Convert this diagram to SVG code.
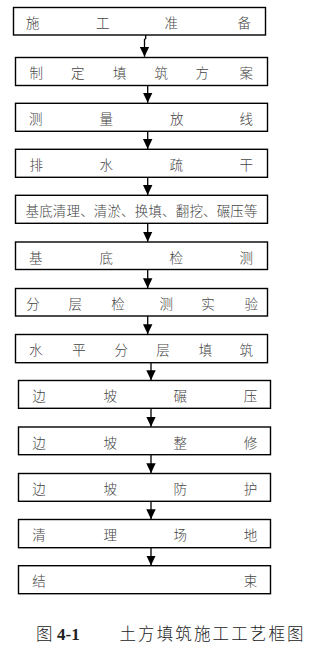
<svg xmlns="http://www.w3.org/2000/svg" width="311" height="653" viewBox="0 0 311 653">
<defs>
<marker id="ah" viewBox="0 -5 10 10" refX="10" refY="0" markerWidth="10" markerHeight="10" markerUnits="userSpaceOnUse" orient="auto">
<path d="M0,-4.7 L10,0 L0,4.7 z" fill="#000"/>
</marker>
</defs>
<style>
.box{fill:#fff;stroke:#000;stroke-width:1.4}
.t{font-family:"Noto Sans CJK SC","Noto Sans CJK JP",sans-serif;font-size:13.5px;font-weight:300;fill:#444}
.cap{font-family:"Noto Sans CJK SC","Noto Sans CJK JP",sans-serif;font-size:16.5px;font-weight:300;fill:#222}
.num{font-family:"Liberation Serif",serif;font-size:17px;font-weight:bold;fill:#222}
.c{fill:none;stroke:#000;stroke-width:1.3;marker-end:url(#ah)}
</style>
<rect width="311" height="653" fill="#fff"/>
<g id="connectors">
<polyline class="c" points="145.7,35 145.7,38.5 144.5,39.5 144.5,56.8"/>
<line class="c" x1="147.7" y1="85.3" x2="147.7" y2="102.8"/>
<line class="c" x1="147.7" y1="131.3" x2="147.7" y2="149"/>
<line class="c" x1="147.7" y1="177.3" x2="147.7" y2="195"/>
<line class="c" x1="147.7" y1="223.3" x2="147.7" y2="241.7"/>
<line class="c" x1="147.7" y1="269.5" x2="147.7" y2="288.2"/>
<line class="c" x1="147.7" y1="316" x2="147.7" y2="334.2"/>
<line class="c" x1="151" y1="362.7" x2="151" y2="380.2"/>
<line class="c" x1="151" y1="408.3" x2="151" y2="426.8"/>
<line class="c" x1="151" y1="454.7" x2="151" y2="473.2"/>
<line class="c" x1="151" y1="501.3" x2="151" y2="519.2"/>
<line class="c" x1="151" y1="547.7" x2="151" y2="565.5"/>
</g>
<g id="n1"><rect class="box" x="13.5" y="7.5" width="252" height="27.5"/><text class="t" x="26 96 164.5 237.5" y="28">施工准备</text></g>
<g id="n2"><rect class="box" x="15.5" y="57.5" width="252" height="28"/><text class="t" x="29.5 71 113 154.5 195.5 239.5" y="78.3">制定填筑方案</text></g>
<g id="n3"><rect class="box" x="15.5" y="103.3" width="252" height="28"/><text class="t" x="29 99.5 170 239.5" y="124">测量放线</text></g>
<g id="n4"><rect class="box" x="15.5" y="149.3" width="252" height="28"/><text class="t" x="29.5 99.5 169.5 239.5" y="170">排水疏干</text></g>
<g id="n5"><rect class="box" x="15.5" y="195.3" width="252" height="28"/><text class="t" x="25.5" y="216" textLength="232" lengthAdjust="spacing">基底清理、清淤、换填、翻挖、碾压等</text></g>
<g id="n6"><rect class="box" x="15.5" y="242" width="252" height="27.5"/><text class="t" x="29 99.5 169.5 239.5" y="262.5">基底检测</text></g>
<g id="n7"><rect class="box" x="15.5" y="288.5" width="252" height="27.5"/><text class="t" x="26.2 68.5 111.2 159.5 201.2 244.5" y="309">分层检测实验</text></g>
<g id="n8"><rect class="box" x="15.5" y="334.5" width="252" height="28.2"/><text class="t" x="29 72.2 114.5 156.2 198.8 239.5" y="355.3">水平分层填筑</text></g>
<g id="n9"><rect class="box" x="18.5" y="380.5" width="252" height="27.8"/><text class="t" x="32.2 103.5 173.5 243.8" y="401">边坡碾压</text></g>
<g id="n10"><rect class="box" x="18.5" y="427" width="252" height="27.7"/><text class="t" x="32.2 103.5 173.5 243.8" y="447.5">边坡整修</text></g>
<g id="n11"><rect class="box" x="18.5" y="473.5" width="252" height="27.8"/><text class="t" x="32.2 103.5 173.5 243.8" y="494">边坡防护</text></g>
<g id="n12"><rect class="box" x="18.5" y="519.5" width="252" height="28.2"/><text class="t" x="32.2 103.5 173.5 243.8" y="540.3">清理场地</text></g>
<g id="n13"><rect class="box" x="18.5" y="565.7" width="252" height="28"/><text class="t" x="32.2 243.8" y="586.3">结束</text></g>
<g id="caption">
<text class="cap" x="36" y="640">图</text>
<text class="num" x="57" y="640">4-1</text>
<text class="cap" x="119.5" y="640" textLength="184" lengthAdjust="spacing">土方填筑施工工艺框图</text>
</g>
</svg>
